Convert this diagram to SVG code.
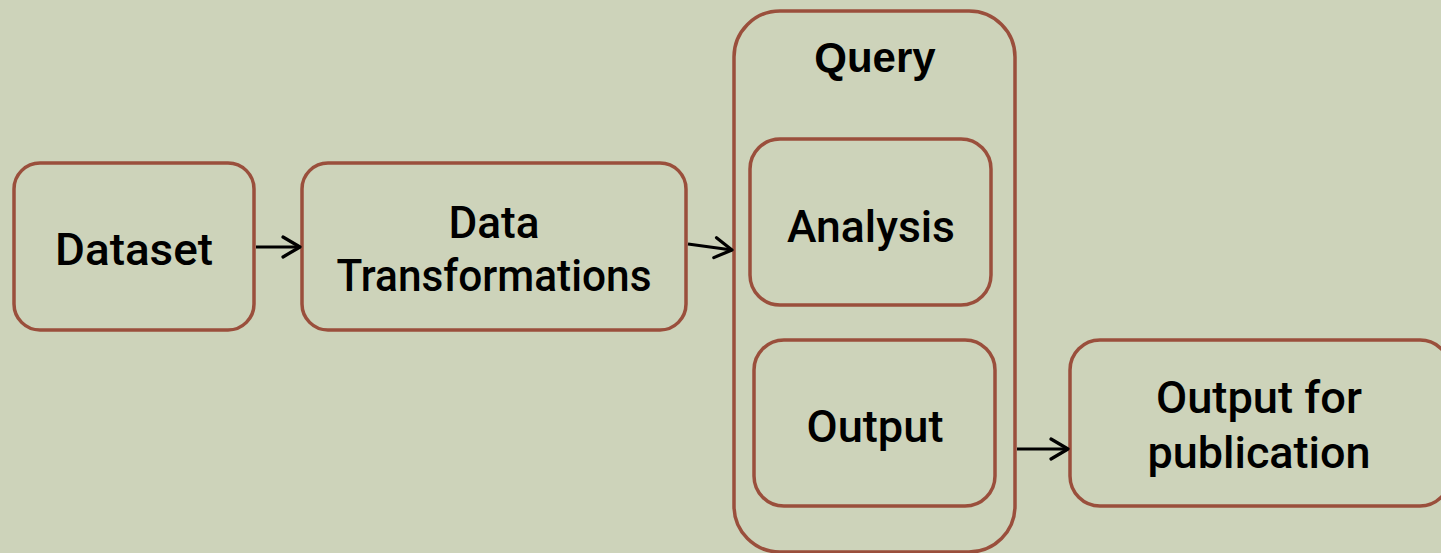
<svg xmlns="http://www.w3.org/2000/svg" width="1441" height="553" viewBox="0 0 1441 553">
<defs>
<style>
.box{fill:none;stroke:#9A4F3C;stroke-width:3.5}
.lbl{font-family:Roboto,"Liberation Sans",sans-serif;font-weight:500;font-size:44px;fill:#000;text-anchor:middle}
.title{font-family:"Liberation Sans",Arial,sans-serif;font-weight:bold;font-size:42px;fill:#000;text-anchor:middle}
.conn{stroke:#000;stroke-width:3;fill:none}
</style>
<marker id="arr" viewBox="0 0 22 24" refX="20" refY="12" markerWidth="22" markerHeight="24" markerUnits="userSpaceOnUse" orient="auto">
<path d="M3,2 L20,12 L3,22" fill="none" stroke="#000" stroke-width="3.2" stroke-linecap="round" stroke-linejoin="round"/>
</marker>
</defs>
<rect width="1441" height="553" fill="#CDD3BA"/>
<g id="dataset">
<rect class="box" x="14" y="163" width="240" height="167" rx="26"/>
<text class="lbl" x="134" y="265" textLength="158" lengthAdjust="spacingAndGlyphs">Dataset</text>
</g>
<g id="data-transformations">
<rect class="box" x="302" y="163" width="384" height="167" rx="26"/>
<text class="lbl" x="494" y="238" textLength="91" lengthAdjust="spacingAndGlyphs">Data</text>
<text class="lbl" x="494" y="291" textLength="315" lengthAdjust="spacingAndGlyphs">Transformations</text>
</g>
<g id="query">
<rect class="box" x="734" y="11" width="281" height="541" rx="46"/>
<text class="title" x="875" y="72">Query</text>
</g>
<g id="analysis">
<rect class="box" x="750" y="139" width="241" height="166" rx="30"/>
<text class="lbl" x="871" y="242" textLength="168" lengthAdjust="spacingAndGlyphs">Analysis</text>
</g>
<g id="output">
<rect class="box" x="754" y="340" width="241" height="166" rx="30"/>
<text class="lbl" x="875" y="442" textLength="137" lengthAdjust="spacingAndGlyphs">Output</text>
</g>
<g id="output-publication">
<rect class="box" x="1070" y="340" width="380" height="166" rx="30"/>
<text class="lbl" x="1259" y="413" textLength="206" lengthAdjust="spacingAndGlyphs">Output for</text>
<text class="lbl" x="1259" y="468" textLength="223" lengthAdjust="spacingAndGlyphs">publication</text>
</g>
<g id="connectors">
<line class="conn" x1="256" y1="247" x2="300" y2="247" marker-end="url(#arr)"/>
<line class="conn" x1="688" y1="244" x2="732" y2="250" marker-end="url(#arr)"/>
<line class="conn" x1="1017" y1="449" x2="1068" y2="449" marker-end="url(#arr)"/>
</g>
</svg>
